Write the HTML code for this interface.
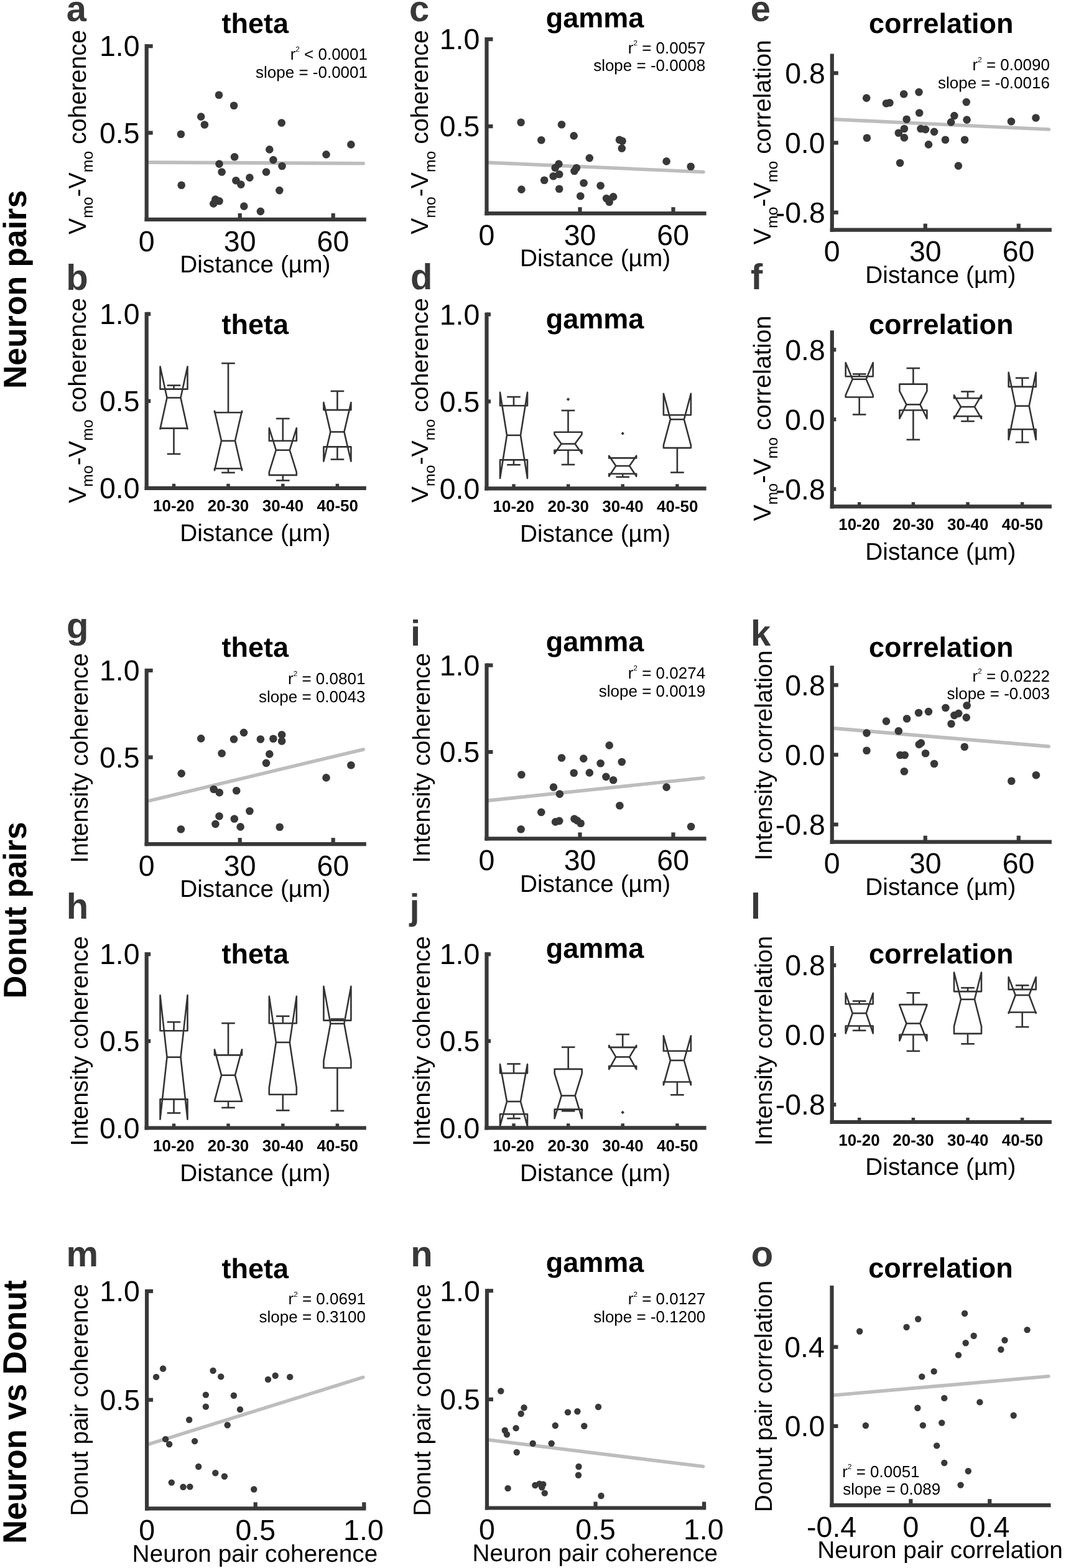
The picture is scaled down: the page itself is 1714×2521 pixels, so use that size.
<!DOCTYPE html>
<html><head><meta charset="utf-8"><title>Figure</title>
<style>
html,body{margin:0;padding:0;background:#fff;}
svg{display:block;}
text{font-family:'Liberation Sans', Arial, Helvetica, sans-serif;font-kerning:none;text-rendering:geometricPrecision;white-space:pre;}
</style></head>
<body>
<svg xmlns="http://www.w3.org/2000/svg" width="1714" height="2521" viewBox="0 0 1714 2521">
<rect width="1714" height="2521" fill="#fff"/>
<line x1="238.2" y1="261.01" x2="584.2" y2="262.79" stroke="#bdbdbd" stroke-width="5.6" stroke-linecap="round"/>
<circle cx="352" cy="152.8" r="6.3" fill="#383838"/>
<circle cx="376.1" cy="169.7" r="6.3" fill="#383838"/>
<circle cx="323.2" cy="187.6" r="6.3" fill="#383838"/>
<circle cx="328.9" cy="200.5" r="6.3" fill="#383838"/>
<circle cx="290.9" cy="215.7" r="6.3" fill="#383838"/>
<circle cx="452.7" cy="197.5" r="6.3" fill="#383838"/>
<circle cx="564.4" cy="232.4" r="6.3" fill="#383838"/>
<circle cx="433.3" cy="240.4" r="6.3" fill="#383838"/>
<circle cx="524.5" cy="248.4" r="6.3" fill="#383838"/>
<circle cx="377.1" cy="252.2" r="6.3" fill="#383838"/>
<circle cx="439.4" cy="257.1" r="6.3" fill="#383838"/>
<circle cx="352.5" cy="263.6" r="6.3" fill="#383838"/>
<circle cx="453.5" cy="267" r="6.3" fill="#383838"/>
<circle cx="356.6" cy="276.5" r="6.3" fill="#383838"/>
<circle cx="428" cy="276.5" r="6.3" fill="#383838"/>
<circle cx="401.4" cy="285.6" r="6.3" fill="#383838"/>
<circle cx="379.4" cy="290.2" r="6.3" fill="#383838"/>
<circle cx="387.4" cy="296.6" r="6.3" fill="#383838"/>
<circle cx="291.7" cy="297.8" r="6.3" fill="#383838"/>
<circle cx="449.3" cy="306.1" r="6.3" fill="#383838"/>
<circle cx="346.4" cy="320.5" r="6.3" fill="#383838"/>
<circle cx="352.5" cy="323.2" r="6.3" fill="#383838"/>
<circle cx="343.3" cy="327.4" r="6.3" fill="#383838"/>
<circle cx="392.3" cy="331.6" r="6.3" fill="#383838"/>
<circle cx="418.9" cy="339.9" r="6.3" fill="#383838"/>
<line x1="235.7" y1="352.9" x2="235.7" y2="74.2" stroke="#383838" stroke-width="6.2" stroke-linecap="square"/>
<line x1="235.7" y1="352.9" x2="585.7" y2="352.9" stroke="#383838" stroke-width="6.2" stroke-linecap="square"/>
<line x1="235.7" y1="213.55" x2="245.7" y2="213.55" stroke="#383838" stroke-width="6.2" stroke-linecap="butt"/>
<g transform="translate(160.01,229.78)" fill="#000"><text xml:space="preserve" x="0" y="0" font-size="46.5">0.5</text></g>
<line x1="235.7" y1="74.2" x2="245.7" y2="74.2" stroke="#383838" stroke-width="6.2" stroke-linecap="butt"/>
<g transform="translate(159.88,90.43)" fill="#000"><text xml:space="preserve" x="0" y="0" font-size="46.5">1.0</text></g>
<g transform="translate(222.77,403.6)" fill="#000"><text xml:space="preserve" x="0" y="0" font-size="46.5">0</text></g>
<line x1="385.7" y1="352.9" x2="385.7" y2="342.9" stroke="#383838" stroke-width="6.2" stroke-linecap="butt"/>
<g transform="translate(359.86,403.6)" fill="#000"><text xml:space="preserve" x="0" y="0" font-size="46.5">30</text></g>
<line x1="535.7" y1="352.9" x2="535.7" y2="342.9" stroke="#383838" stroke-width="6.2" stroke-linecap="butt"/>
<g transform="translate(509.57,403.6)" fill="#000"><text xml:space="preserve" x="0" y="0" font-size="46.5">60</text></g>
<g transform="translate(289.18,438.2)" fill="#000"><text xml:space="preserve" x="0" y="0" font-size="38.8">Distance (µm)</text></g>
<g transform="translate(356.53,53)" fill="#000"><text xml:space="preserve" x="0" y="0" font-size="45" font-weight="bold">theta</text></g>
<g transform="translate(137.8,377.07) rotate(-90) scale(0.9933,1)" fill="#000"><text xml:space="preserve" x="0" y="0" font-size="39.61">V</text><text xml:space="preserve" x="26.42" y="11.49" font-size="24.88">mo</text><text xml:space="preserve" x="60.98" y="0" font-size="39.61">-</text><text xml:space="preserve" x="74.17" y="0" font-size="39.61">V</text><text xml:space="preserve" x="100.59" y="11.49" font-size="24.88">mo</text><text xml:space="preserve" x="135.15" y="0" font-size="39.61"> coherence</text></g>
<g transform="translate(106.7,34.33)" fill="#383838"><text xml:space="preserve" x="0" y="0" font-size="58" font-weight="bold">a</text></g>
<g transform="translate(466.68,95.9)" fill="#000"><text xml:space="preserve" x="0" y="0" font-size="26">r</text><text xml:space="preserve" x="8.66" y="-12.48" font-size="11.7">2</text><text xml:space="preserve" x="15.17" y="0" font-size="26"> &lt; 0.0001</text></g>
<g transform="translate(411.03,125.2)" fill="#000"><text xml:space="preserve" x="0" y="0" font-size="26">slope = -0.0001</text></g>
<line x1="785" y1="261.41" x2="1131" y2="276.43" stroke="#bdbdbd" stroke-width="5.6" stroke-linecap="round"/>
<circle cx="837.6" cy="196.7" r="6.3" fill="#383838"/>
<circle cx="903" cy="200.2" r="6.3" fill="#383838"/>
<circle cx="922.7" cy="218.4" r="6.3" fill="#383838"/>
<circle cx="870.3" cy="225.2" r="6.3" fill="#383838"/>
<circle cx="996" cy="224.8" r="6.3" fill="#383838"/>
<circle cx="1000.6" cy="226.7" r="6.3" fill="#383838"/>
<circle cx="999.8" cy="238.5" r="6.3" fill="#383838"/>
<circle cx="947.8" cy="254.1" r="6.3" fill="#383838"/>
<circle cx="1071.6" cy="259.4" r="6.3" fill="#383838"/>
<circle cx="1110.7" cy="267.8" r="6.3" fill="#383838"/>
<circle cx="898.4" cy="263.6" r="6.3" fill="#383838"/>
<circle cx="892.7" cy="269.7" r="6.3" fill="#383838"/>
<circle cx="926.9" cy="270" r="6.3" fill="#383838"/>
<circle cx="923.5" cy="275" r="6.3" fill="#383838"/>
<circle cx="899.2" cy="280.3" r="6.3" fill="#383838"/>
<circle cx="889.7" cy="283.3" r="6.3" fill="#383838"/>
<circle cx="875.2" cy="289.8" r="6.3" fill="#383838"/>
<circle cx="938.6" cy="294.3" r="6.3" fill="#383838"/>
<circle cx="965.6" cy="298.5" r="6.3" fill="#383838"/>
<circle cx="838.4" cy="304.6" r="6.3" fill="#383838"/>
<circle cx="899.2" cy="303.8" r="6.3" fill="#383838"/>
<circle cx="933.3" cy="315.2" r="6.3" fill="#383838"/>
<circle cx="975.1" cy="319" r="6.3" fill="#383838"/>
<circle cx="986.1" cy="316.4" r="6.3" fill="#383838"/>
<circle cx="979.7" cy="324.7" r="6.3" fill="#383838"/>
<line x1="782.5" y1="343.1" x2="782.5" y2="63.1" stroke="#383838" stroke-width="6.2" stroke-linecap="square"/>
<line x1="782.5" y1="343.1" x2="1132.5" y2="343.1" stroke="#383838" stroke-width="6.2" stroke-linecap="square"/>
<line x1="782.5" y1="203.1" x2="792.5" y2="203.1" stroke="#383838" stroke-width="6.2" stroke-linecap="butt"/>
<g transform="translate(706.81,219.33)" fill="#000"><text xml:space="preserve" x="0" y="0" font-size="46.5">0.5</text></g>
<line x1="782.5" y1="63.1" x2="792.5" y2="63.1" stroke="#383838" stroke-width="6.2" stroke-linecap="butt"/>
<g transform="translate(706.68,79.33)" fill="#000"><text xml:space="preserve" x="0" y="0" font-size="46.5">1.0</text></g>
<g transform="translate(769.57,393.8)" fill="#000"><text xml:space="preserve" x="0" y="0" font-size="46.5">0</text></g>
<line x1="932.5" y1="343.1" x2="932.5" y2="333.1" stroke="#383838" stroke-width="6.2" stroke-linecap="butt"/>
<g transform="translate(906.66,393.8)" fill="#000"><text xml:space="preserve" x="0" y="0" font-size="46.5">30</text></g>
<line x1="1082.5" y1="343.1" x2="1082.5" y2="333.1" stroke="#383838" stroke-width="6.2" stroke-linecap="butt"/>
<g transform="translate(1056.37,393.8)" fill="#000"><text xml:space="preserve" x="0" y="0" font-size="46.5">60</text></g>
<g transform="translate(835.98,428.4)" fill="#000"><text xml:space="preserve" x="0" y="0" font-size="38.8">Distance (µm)</text></g>
<g transform="translate(877.65,44.3)" fill="#000"><text xml:space="preserve" x="0" y="0" font-size="45" font-weight="bold">gamma</text></g>
<g transform="translate(688.4,376.77) rotate(-90) scale(1.0065,1)" fill="#000"><text xml:space="preserve" x="0" y="0" font-size="39.06">V</text><text xml:space="preserve" x="26.05" y="11.33" font-size="24.53">mo</text><text xml:space="preserve" x="60.13" y="0" font-size="39.06">-</text><text xml:space="preserve" x="73.14" y="0" font-size="39.06">V</text><text xml:space="preserve" x="99.19" y="11.33" font-size="24.53">mo</text><text xml:space="preserve" x="133.27" y="0" font-size="39.06"> coherence</text></g>
<g transform="translate(657.93,34.03)" fill="#383838"><text xml:space="preserve" x="0" y="0" font-size="58" font-weight="bold">c</text></g>
<g transform="translate(1009.78,85.8)" fill="#000"><text xml:space="preserve" x="0" y="0" font-size="26">r</text><text xml:space="preserve" x="8.66" y="-12.48" font-size="11.7">2</text><text xml:space="preserve" x="15.17" y="0" font-size="26"> = 0.0057</text></g>
<g transform="translate(954.13,113.7)" fill="#000"><text xml:space="preserve" x="0" y="0" font-size="26">slope = -0.0008</text></g>
<line x1="1340.3" y1="191.92" x2="1686.3" y2="208.03" stroke="#bdbdbd" stroke-width="5.6" stroke-linecap="round"/>
<circle cx="1393.2" cy="157.6" r="6.3" fill="#383838"/>
<circle cx="1453.2" cy="151.2" r="6.3" fill="#383838"/>
<circle cx="1477.5" cy="148.1" r="6.3" fill="#383838"/>
<circle cx="1425" cy="166.3" r="6.3" fill="#383838"/>
<circle cx="1430.4" cy="165.2" r="6.3" fill="#383838"/>
<circle cx="1553.8" cy="164.1" r="6.3" fill="#383838"/>
<circle cx="1478.2" cy="181.5" r="6.3" fill="#383838"/>
<circle cx="1534.4" cy="186.1" r="6.3" fill="#383838"/>
<circle cx="1457.7" cy="191.8" r="6.3" fill="#383838"/>
<circle cx="1554.6" cy="192.6" r="6.3" fill="#383838"/>
<circle cx="1529.1" cy="196.4" r="6.3" fill="#383838"/>
<circle cx="1626" cy="195.2" r="6.3" fill="#383838"/>
<circle cx="1665.5" cy="189.5" r="6.3" fill="#383838"/>
<circle cx="1453.9" cy="207" r="6.3" fill="#383838"/>
<circle cx="1480.5" cy="207" r="6.3" fill="#383838"/>
<circle cx="1488.1" cy="208.1" r="6.3" fill="#383838"/>
<circle cx="1502.1" cy="211.9" r="6.3" fill="#383838"/>
<circle cx="1444.8" cy="213.8" r="6.3" fill="#383838"/>
<circle cx="1393.9" cy="221.8" r="6.3" fill="#383838"/>
<circle cx="1453.9" cy="221.4" r="6.3" fill="#383838"/>
<circle cx="1493" cy="232.4" r="6.3" fill="#383838"/>
<circle cx="1520" cy="224.8" r="6.3" fill="#383838"/>
<circle cx="1551.1" cy="224.8" r="6.3" fill="#383838"/>
<circle cx="1447.1" cy="262" r="6.3" fill="#383838"/>
<circle cx="1540.9" cy="266.6" r="6.3" fill="#383838"/>
<line x1="1337.8" y1="369.6" x2="1337.8" y2="89.5" stroke="#383838" stroke-width="6.2" stroke-linecap="square"/>
<line x1="1337.8" y1="369.6" x2="1687.8" y2="369.6" stroke="#383838" stroke-width="6.2" stroke-linecap="square"/>
<line x1="1337.8" y1="341.59" x2="1347.8" y2="341.59" stroke="#383838" stroke-width="6.2" stroke-linecap="butt"/>
<g transform="translate(1246.69,357.82)" fill="#000"><text xml:space="preserve" x="0" y="0" font-size="46.5">-0.8</text></g>
<line x1="1337.8" y1="229.55" x2="1347.8" y2="229.55" stroke="#383838" stroke-width="6.2" stroke-linecap="butt"/>
<g transform="translate(1261.98,245.78)" fill="#000"><text xml:space="preserve" x="0" y="0" font-size="46.5">0.0</text></g>
<line x1="1337.8" y1="117.51" x2="1347.8" y2="117.51" stroke="#383838" stroke-width="6.2" stroke-linecap="butt"/>
<g transform="translate(1262.18,133.74)" fill="#000"><text xml:space="preserve" x="0" y="0" font-size="46.5">0.8</text></g>
<g transform="translate(1324.87,420.3)" fill="#000"><text xml:space="preserve" x="0" y="0" font-size="46.5">0</text></g>
<line x1="1487.8" y1="369.6" x2="1487.8" y2="359.6" stroke="#383838" stroke-width="6.2" stroke-linecap="butt"/>
<g transform="translate(1461.96,420.3)" fill="#000"><text xml:space="preserve" x="0" y="0" font-size="46.5">30</text></g>
<line x1="1637.8" y1="369.6" x2="1637.8" y2="359.6" stroke="#383838" stroke-width="6.2" stroke-linecap="butt"/>
<g transform="translate(1611.67,420.3)" fill="#000"><text xml:space="preserve" x="0" y="0" font-size="46.5">60</text></g>
<g transform="translate(1391.28,454.9)" fill="#000"><text xml:space="preserve" x="0" y="0" font-size="38.8">Distance (µm)</text></g>
<g transform="translate(1397.04,52.7)" fill="#000"><text xml:space="preserve" x="0" y="0" font-size="45" font-weight="bold">correlation</text></g>
<g transform="translate(1238.5,393.17) rotate(-90) scale(1.0049,1)" fill="#000"><text xml:space="preserve" x="0" y="0" font-size="39.19">V</text><text xml:space="preserve" x="26.14" y="11.37" font-size="24.62">mo</text><text xml:space="preserve" x="60.35" y="0" font-size="39.19">-</text><text xml:space="preserve" x="73.4" y="0" font-size="39.19">V</text><text xml:space="preserve" x="99.54" y="11.37" font-size="24.62">mo</text><text xml:space="preserve" x="133.74" y="0" font-size="39.19"> correlation</text></g>
<g transform="translate(1206.83,34.03)" fill="#383838"><text xml:space="preserve" x="0" y="0" font-size="58" font-weight="bold">e</text></g>
<g transform="translate(1563.58,112.7)" fill="#000"><text xml:space="preserve" x="0" y="0" font-size="26">r</text><text xml:space="preserve" x="8.66" y="-12.48" font-size="11.7">2</text><text xml:space="preserve" x="15.17" y="0" font-size="26"> = 0.0090</text></g>
<g transform="translate(1507.93,141.8)" fill="#000"><text xml:space="preserve" x="0" y="0" font-size="26">slope = -0.0016</text></g>
<polygon points="257.5,688.6 257.5,689.6 268.5,639.5 257.5,589.4 257.5,625.6 301.5,625.6 301.5,589.4 290.5,639.5 301.5,689.6 301.5,688.6" fill="none" stroke="#333333" stroke-width="2.6" stroke-linejoin="round"/>
<line x1="268.5" y1="639.5" x2="290.5" y2="639.5" stroke="#333333" stroke-width="2.6" stroke-linecap="butt"/>
<line x1="279.5" y1="625.6" x2="279.5" y2="619.6" stroke="#333333" stroke-width="2.6" stroke-linecap="butt"/>
<line x1="268.7" y1="619.6" x2="290.3" y2="619.6" stroke="#333333" stroke-width="2.6" stroke-linecap="butt"/>
<line x1="279.5" y1="688.6" x2="279.5" y2="729.9" stroke="#333333" stroke-width="2.6" stroke-linecap="butt"/>
<line x1="268.7" y1="729.9" x2="290.3" y2="729.9" stroke="#333333" stroke-width="2.6" stroke-linecap="butt"/>
<polygon points="345,753.2 345,756.3 356,708.8 345,660.7 345,663.3 389,663.3 389,660.7 378,708.8 389,756.3 389,753.2" fill="none" stroke="#333333" stroke-width="2.6" stroke-linejoin="round"/>
<line x1="356" y1="708.8" x2="378" y2="708.8" stroke="#333333" stroke-width="2.6" stroke-linecap="butt"/>
<line x1="367" y1="663.3" x2="367" y2="584.1" stroke="#333333" stroke-width="2.6" stroke-linecap="butt"/>
<line x1="356.2" y1="584.1" x2="377.8" y2="584.1" stroke="#333333" stroke-width="2.6" stroke-linecap="butt"/>
<line x1="367" y1="753.2" x2="367" y2="759.9" stroke="#333333" stroke-width="2.6" stroke-linecap="butt"/>
<line x1="356.2" y1="759.9" x2="377.8" y2="759.9" stroke="#333333" stroke-width="2.6" stroke-linecap="butt"/>
<polygon points="432.8,763.9 432.8,759.2 443.8,723.7 432.8,688.2 432.8,708.7 476.8,708.7 476.8,688.2 465.8,723.7 476.8,759.2 476.8,763.9" fill="none" stroke="#333333" stroke-width="2.6" stroke-linejoin="round"/>
<line x1="443.8" y1="723.7" x2="465.8" y2="723.7" stroke="#333333" stroke-width="2.6" stroke-linecap="butt"/>
<line x1="454.8" y1="708.7" x2="454.8" y2="673" stroke="#333333" stroke-width="2.6" stroke-linecap="butt"/>
<line x1="444" y1="673" x2="465.6" y2="673" stroke="#333333" stroke-width="2.6" stroke-linecap="butt"/>
<line x1="454.8" y1="763.9" x2="454.8" y2="772.5" stroke="#333333" stroke-width="2.6" stroke-linecap="butt"/>
<line x1="444" y1="772.5" x2="465.6" y2="772.5" stroke="#333333" stroke-width="2.6" stroke-linecap="butt"/>
<polygon points="520.4,718.4 520.4,741.7 531.4,694.4 520.4,647.1 520.4,659.1 564.4,659.1 564.4,647.1 553.4,694.4 564.4,741.7 564.4,718.4" fill="none" stroke="#333333" stroke-width="2.6" stroke-linejoin="round"/>
<line x1="531.4" y1="694.4" x2="553.4" y2="694.4" stroke="#333333" stroke-width="2.6" stroke-linecap="butt"/>
<line x1="542.4" y1="659.1" x2="542.4" y2="628.9" stroke="#333333" stroke-width="2.6" stroke-linecap="butt"/>
<line x1="531.6" y1="628.9" x2="553.2" y2="628.9" stroke="#333333" stroke-width="2.6" stroke-linecap="butt"/>
<line x1="542.4" y1="718.4" x2="542.4" y2="738.6" stroke="#333333" stroke-width="2.6" stroke-linecap="butt"/>
<line x1="531.6" y1="738.6" x2="553.2" y2="738.6" stroke="#333333" stroke-width="2.6" stroke-linecap="butt"/>
<line x1="235.7" y1="784.8" x2="235.7" y2="504.8" stroke="#383838" stroke-width="6.2" stroke-linecap="square"/>
<line x1="235.7" y1="784.8" x2="585.7" y2="784.8" stroke="#383838" stroke-width="6.2" stroke-linecap="square"/>
<g transform="translate(159.88,801.03)" fill="#000"><text xml:space="preserve" x="0" y="0" font-size="46.5">0.0</text></g>
<line x1="235.7" y1="644.8" x2="242.2" y2="644.8" stroke="#383838" stroke-width="6.2" stroke-linecap="butt"/>
<g transform="translate(160.01,661.03)" fill="#000"><text xml:space="preserve" x="0" y="0" font-size="46.5">0.5</text></g>
<line x1="235.7" y1="504.8" x2="242.2" y2="504.8" stroke="#383838" stroke-width="6.2" stroke-linecap="butt"/>
<g transform="translate(159.88,521.03)" fill="#000"><text xml:space="preserve" x="0" y="0" font-size="46.5">1.0</text></g>
<g transform="translate(245.97,822.3)" fill="#000"><text xml:space="preserve" x="0" y="0" font-size="26" font-weight="bold">10-20</text></g>
<line x1="279.5" y1="784.8" x2="279.5" y2="777.8" stroke="#383838" stroke-width="5.5" stroke-linecap="butt"/>
<g transform="translate(333.83,822.3)" fill="#000"><text xml:space="preserve" x="0" y="0" font-size="26" font-weight="bold">20-30</text></g>
<line x1="367" y1="784.8" x2="367" y2="777.8" stroke="#383838" stroke-width="5.5" stroke-linecap="butt"/>
<g transform="translate(421.79,822.3)" fill="#000"><text xml:space="preserve" x="0" y="0" font-size="26" font-weight="bold">30-40</text></g>
<line x1="454.8" y1="784.8" x2="454.8" y2="777.8" stroke="#383838" stroke-width="5.5" stroke-linecap="butt"/>
<g transform="translate(509.49,822.3)" fill="#000"><text xml:space="preserve" x="0" y="0" font-size="26" font-weight="bold">40-50</text></g>
<line x1="542.4" y1="784.8" x2="542.4" y2="777.8" stroke="#383838" stroke-width="5.5" stroke-linecap="butt"/>
<g transform="translate(289.18,870.1)" fill="#000"><text xml:space="preserve" x="0" y="0" font-size="38.8">Distance (µm)</text></g>
<g transform="translate(356.53,537.3)" fill="#000"><text xml:space="preserve" x="0" y="0" font-size="45" font-weight="bold">theta</text></g>
<g transform="translate(137.8,809.07) rotate(-90) scale(0.9964,1)" fill="#000"><text xml:space="preserve" x="0" y="0" font-size="39.61">V</text><text xml:space="preserve" x="26.42" y="11.49" font-size="24.88">mo</text><text xml:space="preserve" x="60.98" y="0" font-size="39.61">-</text><text xml:space="preserve" x="74.17" y="0" font-size="39.61">V</text><text xml:space="preserve" x="100.59" y="11.49" font-size="24.88">mo</text><text xml:space="preserve" x="135.15" y="0" font-size="39.61"> coherence</text></g>
<g transform="translate(106.18,466.03)" fill="#383838"><text xml:space="preserve" x="0" y="0" font-size="58" font-weight="bold">b</text></g>
<polygon points="804,739.4 804,769 815,699.8 804,630.8 804,652.3 848,652.3 848,630.8 837,699.8 848,769 848,739.4" fill="none" stroke="#333333" stroke-width="2.6" stroke-linejoin="round"/>
<line x1="815" y1="699.8" x2="837" y2="699.8" stroke="#333333" stroke-width="2.6" stroke-linecap="butt"/>
<line x1="826" y1="652.3" x2="826" y2="638.1" stroke="#333333" stroke-width="2.6" stroke-linecap="butt"/>
<line x1="815.2" y1="638.1" x2="836.8" y2="638.1" stroke="#333333" stroke-width="2.6" stroke-linecap="butt"/>
<line x1="826" y1="739.4" x2="826" y2="747.3" stroke="#333333" stroke-width="2.6" stroke-linecap="butt"/>
<line x1="815.2" y1="747.3" x2="836.8" y2="747.3" stroke="#333333" stroke-width="2.6" stroke-linecap="butt"/>
<polygon points="891.5,723.8 891.5,729.2 902.5,713.6 891.5,698.5 891.5,694.8 935.5,694.8 935.5,698.5 924.5,713.6 935.5,729.2 935.5,723.8" fill="none" stroke="#333333" stroke-width="2.6" stroke-linejoin="round"/>
<line x1="902.5" y1="713.6" x2="924.5" y2="713.6" stroke="#333333" stroke-width="2.6" stroke-linecap="butt"/>
<line x1="913.5" y1="694.8" x2="913.5" y2="660" stroke="#333333" stroke-width="2.6" stroke-linecap="butt"/>
<line x1="902.7" y1="660" x2="924.3" y2="660" stroke="#333333" stroke-width="2.6" stroke-linecap="butt"/>
<line x1="913.5" y1="723.8" x2="913.5" y2="747" stroke="#333333" stroke-width="2.6" stroke-linecap="butt"/>
<line x1="902.7" y1="747" x2="924.3" y2="747" stroke="#333333" stroke-width="2.6" stroke-linecap="butt"/>
<polygon points="913.5,639.3 916.2,642 913.5,644.7 910.8,642" fill="#333333"/>
<polygon points="979.2,761.8 979.2,765.8 990.2,749.1 979.2,732.8 979.2,736.4 1023.2,736.4 1023.2,732.8 1012.2,749.1 1023.2,765.8 1023.2,761.8" fill="none" stroke="#333333" stroke-width="2.6" stroke-linejoin="round"/>
<line x1="990.2" y1="749.1" x2="1012.2" y2="749.1" stroke="#333333" stroke-width="2.6" stroke-linecap="butt"/>
<line x1="1001.2" y1="761.8" x2="1001.2" y2="766.9" stroke="#333333" stroke-width="2.6" stroke-linecap="butt"/>
<line x1="990.4" y1="766.9" x2="1012" y2="766.9" stroke="#333333" stroke-width="2.6" stroke-linecap="butt"/>
<polygon points="1001.2,694.2 1003.9,696.9 1001.2,699.6 998.5,696.9" fill="#333333"/>
<polygon points="1066.9,720.1 1066.9,715.7 1077.9,674.3 1066.9,632.9 1066.9,667.3 1110.9,667.3 1110.9,632.9 1099.9,674.3 1110.9,715.7 1110.9,720.1" fill="none" stroke="#333333" stroke-width="2.6" stroke-linejoin="round"/>
<line x1="1077.9" y1="674.3" x2="1099.9" y2="674.3" stroke="#333333" stroke-width="2.6" stroke-linecap="butt"/>
<line x1="1088.9" y1="720.1" x2="1088.9" y2="759.6" stroke="#333333" stroke-width="2.6" stroke-linecap="butt"/>
<line x1="1078.1" y1="759.6" x2="1099.7" y2="759.6" stroke="#333333" stroke-width="2.6" stroke-linecap="butt"/>
<line x1="782.5" y1="785.4" x2="782.5" y2="505.5" stroke="#383838" stroke-width="6.2" stroke-linecap="square"/>
<line x1="782.5" y1="785.4" x2="1132.5" y2="785.4" stroke="#383838" stroke-width="6.2" stroke-linecap="square"/>
<g transform="translate(706.68,801.63)" fill="#000"><text xml:space="preserve" x="0" y="0" font-size="46.5">0.0</text></g>
<line x1="782.5" y1="645.45" x2="789" y2="645.45" stroke="#383838" stroke-width="6.2" stroke-linecap="butt"/>
<g transform="translate(706.81,661.68)" fill="#000"><text xml:space="preserve" x="0" y="0" font-size="46.5">0.5</text></g>
<line x1="782.5" y1="505.5" x2="789" y2="505.5" stroke="#383838" stroke-width="6.2" stroke-linecap="butt"/>
<g transform="translate(706.68,521.73)" fill="#000"><text xml:space="preserve" x="0" y="0" font-size="46.5">1.0</text></g>
<g transform="translate(792.47,822.9)" fill="#000"><text xml:space="preserve" x="0" y="0" font-size="26" font-weight="bold">10-20</text></g>
<line x1="826" y1="785.4" x2="826" y2="778.4" stroke="#383838" stroke-width="5.5" stroke-linecap="butt"/>
<g transform="translate(880.53,822.9)" fill="#000"><text xml:space="preserve" x="0" y="0" font-size="26" font-weight="bold">20-30</text></g>
<line x1="913.7" y1="785.4" x2="913.7" y2="778.4" stroke="#383838" stroke-width="5.5" stroke-linecap="butt"/>
<g transform="translate(968.19,822.9)" fill="#000"><text xml:space="preserve" x="0" y="0" font-size="26" font-weight="bold">30-40</text></g>
<line x1="1001.2" y1="785.4" x2="1001.2" y2="778.4" stroke="#383838" stroke-width="5.5" stroke-linecap="butt"/>
<g transform="translate(1055.99,822.9)" fill="#000"><text xml:space="preserve" x="0" y="0" font-size="26" font-weight="bold">40-50</text></g>
<line x1="1088.9" y1="785.4" x2="1088.9" y2="778.4" stroke="#383838" stroke-width="5.5" stroke-linecap="butt"/>
<g transform="translate(835.98,870.7)" fill="#000"><text xml:space="preserve" x="0" y="0" font-size="38.8">Distance (µm)</text></g>
<g transform="translate(877.65,528)" fill="#000"><text xml:space="preserve" x="0" y="0" font-size="45" font-weight="bold">gamma</text></g>
<g transform="translate(688.2,808.17) rotate(-90) scale(1.0449,1)" fill="#000"><text xml:space="preserve" x="0" y="0" font-size="37.68">V</text><text xml:space="preserve" x="25.13" y="10.93" font-size="23.67">mo</text><text xml:space="preserve" x="58.01" y="0" font-size="37.68">-</text><text xml:space="preserve" x="70.55" y="0" font-size="37.68">V</text><text xml:space="preserve" x="95.68" y="10.93" font-size="23.67">mo</text><text xml:space="preserve" x="128.56" y="0" font-size="37.68"> coherence</text></g>
<g transform="translate(659.92,465.33)" fill="#383838"><text xml:space="preserve" x="0" y="0" font-size="58" font-weight="bold">d</text></g>
<polygon points="1359.7,638.5 1359.7,635.3 1370.7,609.7 1359.7,583.1 1359.7,605.2 1403.7,605.2 1403.7,583.1 1392.7,609.7 1403.7,635.3 1403.7,638.5" fill="none" stroke="#333333" stroke-width="2.6" stroke-linejoin="round"/>
<line x1="1370.7" y1="609.7" x2="1392.7" y2="609.7" stroke="#333333" stroke-width="2.6" stroke-linecap="butt"/>
<line x1="1381.7" y1="605.2" x2="1381.7" y2="601.4" stroke="#333333" stroke-width="2.6" stroke-linecap="butt"/>
<line x1="1370.9" y1="601.4" x2="1392.5" y2="601.4" stroke="#333333" stroke-width="2.6" stroke-linecap="butt"/>
<line x1="1381.7" y1="638.5" x2="1381.7" y2="666.5" stroke="#333333" stroke-width="2.6" stroke-linecap="butt"/>
<line x1="1370.9" y1="666.5" x2="1392.5" y2="666.5" stroke="#333333" stroke-width="2.6" stroke-linecap="butt"/>
<polygon points="1446.4,659.5 1446.4,673 1457.4,650.4 1446.4,628.9 1446.4,617.6 1490.4,617.6 1490.4,628.9 1479.4,650.4 1490.4,673 1490.4,659.5" fill="none" stroke="#333333" stroke-width="2.6" stroke-linejoin="round"/>
<line x1="1457.4" y1="650.4" x2="1479.4" y2="650.4" stroke="#333333" stroke-width="2.6" stroke-linecap="butt"/>
<line x1="1468.4" y1="617.6" x2="1468.4" y2="592" stroke="#333333" stroke-width="2.6" stroke-linecap="butt"/>
<line x1="1457.6" y1="592" x2="1479.2" y2="592" stroke="#333333" stroke-width="2.6" stroke-linecap="butt"/>
<line x1="1468.4" y1="659.5" x2="1468.4" y2="706.9" stroke="#333333" stroke-width="2.6" stroke-linecap="butt"/>
<line x1="1457.6" y1="706.9" x2="1479.2" y2="706.9" stroke="#333333" stroke-width="2.6" stroke-linecap="butt"/>
<polygon points="1534,669.2 1534,673 1545,654.1 1534,635.3 1534,640.2 1578,640.2 1578,635.3 1567,654.1 1578,673 1578,669.2" fill="none" stroke="#333333" stroke-width="2.6" stroke-linejoin="round"/>
<line x1="1545" y1="654.1" x2="1567" y2="654.1" stroke="#333333" stroke-width="2.6" stroke-linecap="butt"/>
<line x1="1556" y1="640.2" x2="1556" y2="629.6" stroke="#333333" stroke-width="2.6" stroke-linecap="butt"/>
<line x1="1545.2" y1="629.6" x2="1566.8" y2="629.6" stroke="#333333" stroke-width="2.6" stroke-linecap="butt"/>
<line x1="1556" y1="669.2" x2="1556" y2="677.3" stroke="#333333" stroke-width="2.6" stroke-linecap="butt"/>
<line x1="1545.2" y1="677.3" x2="1566.8" y2="677.3" stroke="#333333" stroke-width="2.6" stroke-linecap="butt"/>
<polygon points="1621.7,690.2 1621.7,706.9 1632.7,652.7 1621.7,598.7 1621.7,621.9 1665.7,621.9 1665.7,598.7 1654.7,652.7 1665.7,706.9 1665.7,690.2" fill="none" stroke="#333333" stroke-width="2.6" stroke-linejoin="round"/>
<line x1="1632.7" y1="652.7" x2="1654.7" y2="652.7" stroke="#333333" stroke-width="2.6" stroke-linecap="butt"/>
<line x1="1643.7" y1="621.9" x2="1643.7" y2="607.7" stroke="#333333" stroke-width="2.6" stroke-linecap="butt"/>
<line x1="1632.9" y1="607.7" x2="1654.5" y2="607.7" stroke="#333333" stroke-width="2.6" stroke-linecap="butt"/>
<line x1="1643.7" y1="690.2" x2="1643.7" y2="711.2" stroke="#333333" stroke-width="2.6" stroke-linecap="butt"/>
<line x1="1632.9" y1="711.2" x2="1654.5" y2="711.2" stroke="#333333" stroke-width="2.6" stroke-linecap="butt"/>
<line x1="1337.8" y1="814.3" x2="1337.8" y2="534.3" stroke="#383838" stroke-width="6.2" stroke-linecap="square"/>
<line x1="1337.8" y1="814.3" x2="1687.8" y2="814.3" stroke="#383838" stroke-width="6.2" stroke-linecap="square"/>
<line x1="1337.8" y1="786.3" x2="1344.3" y2="786.3" stroke="#383838" stroke-width="6.2" stroke-linecap="butt"/>
<g transform="translate(1246.69,802.53)" fill="#000"><text xml:space="preserve" x="0" y="0" font-size="46.5">-0.8</text></g>
<line x1="1337.8" y1="674.3" x2="1344.3" y2="674.3" stroke="#383838" stroke-width="6.2" stroke-linecap="butt"/>
<g transform="translate(1261.98,690.53)" fill="#000"><text xml:space="preserve" x="0" y="0" font-size="46.5">0.0</text></g>
<line x1="1337.8" y1="562.3" x2="1344.3" y2="562.3" stroke="#383838" stroke-width="6.2" stroke-linecap="butt"/>
<g transform="translate(1262.18,578.53)" fill="#000"><text xml:space="preserve" x="0" y="0" font-size="46.5">0.8</text></g>
<g transform="translate(1348.17,851.8)" fill="#000"><text xml:space="preserve" x="0" y="0" font-size="26" font-weight="bold">10-20</text></g>
<line x1="1381.7" y1="814.3" x2="1381.7" y2="807.3" stroke="#383838" stroke-width="5.5" stroke-linecap="butt"/>
<g transform="translate(1435.23,851.8)" fill="#000"><text xml:space="preserve" x="0" y="0" font-size="26" font-weight="bold">20-30</text></g>
<line x1="1468.4" y1="814.3" x2="1468.4" y2="807.3" stroke="#383838" stroke-width="5.5" stroke-linecap="butt"/>
<g transform="translate(1522.99,851.8)" fill="#000"><text xml:space="preserve" x="0" y="0" font-size="26" font-weight="bold">30-40</text></g>
<line x1="1556" y1="814.3" x2="1556" y2="807.3" stroke="#383838" stroke-width="5.5" stroke-linecap="butt"/>
<g transform="translate(1610.79,851.8)" fill="#000"><text xml:space="preserve" x="0" y="0" font-size="26" font-weight="bold">40-50</text></g>
<line x1="1643.7" y1="814.3" x2="1643.7" y2="807.3" stroke="#383838" stroke-width="5.5" stroke-linecap="butt"/>
<g transform="translate(1391.28,899.6)" fill="#000"><text xml:space="preserve" x="0" y="0" font-size="38.8">Distance (µm)</text></g>
<g transform="translate(1397.04,537.4)" fill="#000"><text xml:space="preserve" x="0" y="0" font-size="45" font-weight="bold">correlation</text></g>
<g transform="translate(1238.6,837.77) rotate(-90) scale(1.0044,1)" fill="#000"><text xml:space="preserve" x="0" y="0" font-size="39.33">V</text><text xml:space="preserve" x="26.23" y="11.41" font-size="24.71">mo</text><text xml:space="preserve" x="60.56" y="0" font-size="39.33">-</text><text xml:space="preserve" x="73.66" y="0" font-size="39.33">V</text><text xml:space="preserve" x="99.89" y="11.41" font-size="24.71">mo</text><text xml:space="preserve" x="134.21" y="0" font-size="39.33"> correlation</text></g>
<g transform="translate(1207.01,465.4)" fill="#383838"><text xml:space="preserve" x="0" y="0" font-size="58" font-weight="bold">f</text></g>
<line x1="238.2" y1="1287.9" x2="584.2" y2="1204.91" stroke="#bdbdbd" stroke-width="5.6" stroke-linecap="round"/>
<circle cx="323.2" cy="1187.4" r="6.3" fill="#383838"/>
<circle cx="376" cy="1188.5" r="6.3" fill="#383838"/>
<circle cx="392" cy="1177.9" r="6.3" fill="#383838"/>
<circle cx="418.9" cy="1188.5" r="6.3" fill="#383838"/>
<circle cx="439.4" cy="1187.7" r="6.3" fill="#383838"/>
<circle cx="453.1" cy="1181.3" r="6.3" fill="#383838"/>
<circle cx="453.1" cy="1191.5" r="6.3" fill="#383838"/>
<circle cx="356.6" cy="1211.3" r="6.3" fill="#383838"/>
<circle cx="433.3" cy="1212.4" r="6.3" fill="#383838"/>
<circle cx="428" cy="1226.9" r="6.3" fill="#383838"/>
<circle cx="291.7" cy="1243.6" r="6.3" fill="#383838"/>
<circle cx="564.4" cy="1230.3" r="6.3" fill="#383838"/>
<circle cx="524.5" cy="1250.4" r="6.3" fill="#383838"/>
<circle cx="343.7" cy="1269" r="6.3" fill="#383838"/>
<circle cx="352.8" cy="1274.3" r="6.3" fill="#383838"/>
<circle cx="380.2" cy="1271.3" r="6.3" fill="#383838"/>
<circle cx="401.4" cy="1304" r="6.3" fill="#383838"/>
<circle cx="352.5" cy="1312.3" r="6.3" fill="#383838"/>
<circle cx="376.8" cy="1316.5" r="6.3" fill="#383838"/>
<circle cx="346.4" cy="1324.9" r="6.3" fill="#383838"/>
<circle cx="386.6" cy="1329.4" r="6.3" fill="#383838"/>
<circle cx="449.7" cy="1329.8" r="6.3" fill="#383838"/>
<circle cx="290.9" cy="1333.2" r="6.3" fill="#383838"/>
<line x1="235.7" y1="1357.1" x2="235.7" y2="1078" stroke="#383838" stroke-width="6.2" stroke-linecap="square"/>
<line x1="235.7" y1="1357.1" x2="585.7" y2="1357.1" stroke="#383838" stroke-width="6.2" stroke-linecap="square"/>
<line x1="235.7" y1="1217.55" x2="245.7" y2="1217.55" stroke="#383838" stroke-width="6.2" stroke-linecap="butt"/>
<g transform="translate(160.01,1233.78)" fill="#000"><text xml:space="preserve" x="0" y="0" font-size="46.5">0.5</text></g>
<line x1="235.7" y1="1078" x2="245.7" y2="1078" stroke="#383838" stroke-width="6.2" stroke-linecap="butt"/>
<g transform="translate(159.88,1094.23)" fill="#000"><text xml:space="preserve" x="0" y="0" font-size="46.5">1.0</text></g>
<g transform="translate(222.77,1407.8)" fill="#000"><text xml:space="preserve" x="0" y="0" font-size="46.5">0</text></g>
<line x1="385.7" y1="1357.1" x2="385.7" y2="1347.1" stroke="#383838" stroke-width="6.2" stroke-linecap="butt"/>
<g transform="translate(359.86,1407.8)" fill="#000"><text xml:space="preserve" x="0" y="0" font-size="46.5">30</text></g>
<line x1="535.7" y1="1357.1" x2="535.7" y2="1347.1" stroke="#383838" stroke-width="6.2" stroke-linecap="butt"/>
<g transform="translate(509.57,1407.8)" fill="#000"><text xml:space="preserve" x="0" y="0" font-size="46.5">60</text></g>
<g transform="translate(289.18,1442.4)" fill="#000"><text xml:space="preserve" x="0" y="0" font-size="38.8">Distance (µm)</text></g>
<g transform="translate(356.53,1056.3)" fill="#000"><text xml:space="preserve" x="0" y="0" font-size="45" font-weight="bold">theta</text></g>
<g transform="translate(140.6,1387.39) rotate(-90) scale(0.9931,1)" fill="#000"><text xml:space="preserve" x="0" y="0" font-size="39.19">Intensity coherence</text></g>
<g transform="translate(107.12,1026.41)" fill="#383838"><text xml:space="preserve" x="0" y="0" font-size="58" font-weight="bold">g</text></g>
<g transform="translate(463.08,1099.7)" fill="#000"><text xml:space="preserve" x="0" y="0" font-size="26">r</text><text xml:space="preserve" x="8.66" y="-12.48" font-size="11.7">2</text><text xml:space="preserve" x="15.17" y="0" font-size="26"> = 0.0801</text></g>
<g transform="translate(416.09,1128.5)" fill="#000"><text xml:space="preserve" x="0" y="0" font-size="26">slope = 0.0043</text></g>
<line x1="785" y1="1287.14" x2="1131" y2="1250.66" stroke="#bdbdbd" stroke-width="5.6" stroke-linecap="round"/>
<circle cx="979.7" cy="1198.4" r="6.3" fill="#383838"/>
<circle cx="903" cy="1218.5" r="6.3" fill="#383838"/>
<circle cx="938.3" cy="1219.6" r="6.3" fill="#383838"/>
<circle cx="965.6" cy="1227.2" r="6.3" fill="#383838"/>
<circle cx="999.8" cy="1225" r="6.3" fill="#383838"/>
<circle cx="838.4" cy="1245.5" r="6.3" fill="#383838"/>
<circle cx="922.7" cy="1242.8" r="6.3" fill="#383838"/>
<circle cx="947.8" cy="1242.4" r="6.3" fill="#383838"/>
<circle cx="974.4" cy="1248.9" r="6.3" fill="#383838"/>
<circle cx="986.1" cy="1254.2" r="6.3" fill="#383838"/>
<circle cx="890" cy="1265.6" r="6.3" fill="#383838"/>
<circle cx="899.9" cy="1276.6" r="6.3" fill="#383838"/>
<circle cx="1071.6" cy="1265.6" r="6.3" fill="#383838"/>
<circle cx="996.4" cy="1295.2" r="6.3" fill="#383838"/>
<circle cx="870.3" cy="1305.9" r="6.3" fill="#383838"/>
<circle cx="893.1" cy="1321.4" r="6.3" fill="#383838"/>
<circle cx="899.2" cy="1319.9" r="6.3" fill="#383838"/>
<circle cx="923.5" cy="1316.5" r="6.3" fill="#383838"/>
<circle cx="928" cy="1319.2" r="6.3" fill="#383838"/>
<circle cx="933.7" cy="1323.7" r="6.3" fill="#383838"/>
<circle cx="837.6" cy="1333.2" r="6.3" fill="#383838"/>
<circle cx="1111.1" cy="1329" r="6.3" fill="#383838"/>
<line x1="782.5" y1="1348.4" x2="782.5" y2="1069.6" stroke="#383838" stroke-width="6.2" stroke-linecap="square"/>
<line x1="782.5" y1="1348.4" x2="1132.5" y2="1348.4" stroke="#383838" stroke-width="6.2" stroke-linecap="square"/>
<line x1="782.5" y1="1209" x2="792.5" y2="1209" stroke="#383838" stroke-width="6.2" stroke-linecap="butt"/>
<g transform="translate(706.81,1225.23)" fill="#000"><text xml:space="preserve" x="0" y="0" font-size="46.5">0.5</text></g>
<line x1="782.5" y1="1069.6" x2="792.5" y2="1069.6" stroke="#383838" stroke-width="6.2" stroke-linecap="butt"/>
<g transform="translate(706.68,1085.83)" fill="#000"><text xml:space="preserve" x="0" y="0" font-size="46.5">1.0</text></g>
<g transform="translate(769.57,1399.1)" fill="#000"><text xml:space="preserve" x="0" y="0" font-size="46.5">0</text></g>
<line x1="932.5" y1="1348.4" x2="932.5" y2="1338.4" stroke="#383838" stroke-width="6.2" stroke-linecap="butt"/>
<g transform="translate(906.66,1399.1)" fill="#000"><text xml:space="preserve" x="0" y="0" font-size="46.5">30</text></g>
<line x1="1082.5" y1="1348.4" x2="1082.5" y2="1338.4" stroke="#383838" stroke-width="6.2" stroke-linecap="butt"/>
<g transform="translate(1056.37,1399.1)" fill="#000"><text xml:space="preserve" x="0" y="0" font-size="46.5">60</text></g>
<g transform="translate(835.98,1433.7)" fill="#000"><text xml:space="preserve" x="0" y="0" font-size="38.8">Distance (µm)</text></g>
<g transform="translate(877.65,1046.7)" fill="#000"><text xml:space="preserve" x="0" y="0" font-size="45" font-weight="bold">gamma</text></g>
<g transform="translate(691.4,1387.39) rotate(-90) scale(0.9969,1)" fill="#000"><text xml:space="preserve" x="0" y="0" font-size="39.06">Intensity coherence</text></g>
<g transform="translate(659.95,1037.8)" fill="#383838"><text xml:space="preserve" x="0" y="0" font-size="58" font-weight="bold">i</text></g>
<g transform="translate(1009.78,1090.8)" fill="#000"><text xml:space="preserve" x="0" y="0" font-size="26">r</text><text xml:space="preserve" x="8.66" y="-12.48" font-size="11.7">2</text><text xml:space="preserve" x="15.17" y="0" font-size="26"> = 0.0274</text></g>
<g transform="translate(962.79,1119.9)" fill="#000"><text xml:space="preserve" x="0" y="0" font-size="26">slope = 0.0019</text></g>
<line x1="1340.3" y1="1170.86" x2="1686.3" y2="1200.13" stroke="#bdbdbd" stroke-width="5.6" stroke-linecap="round"/>
<circle cx="1554.6" cy="1134.2" r="6.3" fill="#383838"/>
<circle cx="1520.4" cy="1138" r="6.3" fill="#383838"/>
<circle cx="1493" cy="1144.1" r="6.3" fill="#383838"/>
<circle cx="1477.1" cy="1146" r="6.3" fill="#383838"/>
<circle cx="1534.4" cy="1150.1" r="6.3" fill="#383838"/>
<circle cx="1541.2" cy="1147.1" r="6.3" fill="#383838"/>
<circle cx="1553.8" cy="1153.6" r="6.3" fill="#383838"/>
<circle cx="1458.1" cy="1155.5" r="6.3" fill="#383838"/>
<circle cx="1425" cy="1159.6" r="6.3" fill="#383838"/>
<circle cx="1529.5" cy="1163.8" r="6.3" fill="#383838"/>
<circle cx="1444.8" cy="1175.2" r="6.3" fill="#383838"/>
<circle cx="1393.5" cy="1178.6" r="6.3" fill="#383838"/>
<circle cx="1480.9" cy="1194.6" r="6.3" fill="#383838"/>
<circle cx="1477.8" cy="1196.9" r="6.3" fill="#383838"/>
<circle cx="1550.8" cy="1200.7" r="6.3" fill="#383838"/>
<circle cx="1393.5" cy="1206.7" r="6.3" fill="#383838"/>
<circle cx="1447.4" cy="1214" r="6.3" fill="#383838"/>
<circle cx="1454.7" cy="1214" r="6.3" fill="#383838"/>
<circle cx="1488.1" cy="1211.3" r="6.3" fill="#383838"/>
<circle cx="1502.1" cy="1228" r="6.3" fill="#383838"/>
<circle cx="1453.9" cy="1240.2" r="6.3" fill="#383838"/>
<circle cx="1626.3" cy="1255.7" r="6.3" fill="#383838"/>
<circle cx="1665.9" cy="1246.2" r="6.3" fill="#383838"/>
<line x1="1337.8" y1="1353.6" x2="1337.8" y2="1073.4" stroke="#383838" stroke-width="6.2" stroke-linecap="square"/>
<line x1="1337.8" y1="1353.6" x2="1687.8" y2="1353.6" stroke="#383838" stroke-width="6.2" stroke-linecap="square"/>
<line x1="1337.8" y1="1325.58" x2="1347.8" y2="1325.58" stroke="#383838" stroke-width="6.2" stroke-linecap="butt"/>
<g transform="translate(1246.69,1341.81)" fill="#000"><text xml:space="preserve" x="0" y="0" font-size="46.5">-0.8</text></g>
<line x1="1337.8" y1="1213.5" x2="1347.8" y2="1213.5" stroke="#383838" stroke-width="6.2" stroke-linecap="butt"/>
<g transform="translate(1261.98,1229.73)" fill="#000"><text xml:space="preserve" x="0" y="0" font-size="46.5">0.0</text></g>
<line x1="1337.8" y1="1101.42" x2="1347.8" y2="1101.42" stroke="#383838" stroke-width="6.2" stroke-linecap="butt"/>
<g transform="translate(1262.18,1117.65)" fill="#000"><text xml:space="preserve" x="0" y="0" font-size="46.5">0.8</text></g>
<g transform="translate(1324.87,1404.3)" fill="#000"><text xml:space="preserve" x="0" y="0" font-size="46.5">0</text></g>
<line x1="1487.8" y1="1353.6" x2="1487.8" y2="1343.6" stroke="#383838" stroke-width="6.2" stroke-linecap="butt"/>
<g transform="translate(1461.96,1404.3)" fill="#000"><text xml:space="preserve" x="0" y="0" font-size="46.5">30</text></g>
<line x1="1637.8" y1="1353.6" x2="1637.8" y2="1343.6" stroke="#383838" stroke-width="6.2" stroke-linecap="butt"/>
<g transform="translate(1611.67,1404.3)" fill="#000"><text xml:space="preserve" x="0" y="0" font-size="46.5">60</text></g>
<g transform="translate(1391.28,1438.9)" fill="#000"><text xml:space="preserve" x="0" y="0" font-size="38.8">Distance (µm)</text></g>
<g transform="translate(1397.04,1056.4)" fill="#000"><text xml:space="preserve" x="0" y="0" font-size="45" font-weight="bold">correlation</text></g>
<g transform="translate(1240.8,1383.4) rotate(-90) scale(1.0050,1)" fill="#000"><text xml:space="preserve" x="0" y="0" font-size="38.78">Intensity correlation</text></g>
<g transform="translate(1206.95,1037.8)" fill="#383838"><text xml:space="preserve" x="0" y="0" font-size="58" font-weight="bold">k</text></g>
<g transform="translate(1563.58,1095.9)" fill="#000"><text xml:space="preserve" x="0" y="0" font-size="26">r</text><text xml:space="preserve" x="8.66" y="-12.48" font-size="11.7">2</text><text xml:space="preserve" x="15.17" y="0" font-size="26"> = 0.0222</text></g>
<g transform="translate(1522.39,1124.4)" fill="#000"><text xml:space="preserve" x="0" y="0" font-size="26">slope = -0.003</text></g>
<polygon points="257.5,1767.4 257.5,1799.7 268.5,1699.7 257.5,1600.1 257.5,1657.2 301.5,1657.2 301.5,1600.1 290.5,1699.7 301.5,1799.7 301.5,1767.4" fill="none" stroke="#333333" stroke-width="2.6" stroke-linejoin="round"/>
<line x1="268.5" y1="1699.7" x2="290.5" y2="1699.7" stroke="#333333" stroke-width="2.6" stroke-linecap="butt"/>
<line x1="279.5" y1="1657.2" x2="279.5" y2="1643.2" stroke="#333333" stroke-width="2.6" stroke-linecap="butt"/>
<line x1="268.7" y1="1643.2" x2="290.3" y2="1643.2" stroke="#333333" stroke-width="2.6" stroke-linecap="butt"/>
<line x1="279.5" y1="1767.4" x2="279.5" y2="1789.5" stroke="#333333" stroke-width="2.6" stroke-linecap="butt"/>
<line x1="268.7" y1="1789.5" x2="290.3" y2="1789.5" stroke="#333333" stroke-width="2.6" stroke-linecap="butt"/>
<polygon points="345,1770.7 345,1770.1 356,1728.7 345,1687.3 345,1696.4 389,1696.4 389,1687.3 378,1728.7 389,1770.1 389,1770.7" fill="none" stroke="#333333" stroke-width="2.6" stroke-linejoin="round"/>
<line x1="356" y1="1728.7" x2="378" y2="1728.7" stroke="#333333" stroke-width="2.6" stroke-linecap="butt"/>
<line x1="367" y1="1696.4" x2="367" y2="1645.1" stroke="#333333" stroke-width="2.6" stroke-linecap="butt"/>
<line x1="356.2" y1="1645.1" x2="377.8" y2="1645.1" stroke="#333333" stroke-width="2.6" stroke-linecap="butt"/>
<line x1="367" y1="1770.7" x2="367" y2="1780.9" stroke="#333333" stroke-width="2.6" stroke-linecap="butt"/>
<line x1="356.2" y1="1780.9" x2="377.8" y2="1780.9" stroke="#333333" stroke-width="2.6" stroke-linecap="butt"/>
<polygon points="432.8,1759.7 432.8,1748.9 443.8,1675.9 432.8,1601.9 432.8,1645.2 476.8,1645.2 476.8,1601.9 465.8,1675.9 476.8,1748.9 476.8,1759.7" fill="none" stroke="#333333" stroke-width="2.6" stroke-linejoin="round"/>
<line x1="443.8" y1="1675.9" x2="465.8" y2="1675.9" stroke="#333333" stroke-width="2.6" stroke-linecap="butt"/>
<line x1="454.8" y1="1645.2" x2="454.8" y2="1633.8" stroke="#333333" stroke-width="2.6" stroke-linecap="butt"/>
<line x1="444" y1="1633.8" x2="465.6" y2="1633.8" stroke="#333333" stroke-width="2.6" stroke-linecap="butt"/>
<line x1="454.8" y1="1759.7" x2="454.8" y2="1785.3" stroke="#333333" stroke-width="2.6" stroke-linecap="butt"/>
<line x1="444" y1="1785.3" x2="465.6" y2="1785.3" stroke="#333333" stroke-width="2.6" stroke-linecap="butt"/>
<polygon points="520.4,1717 520.4,1705.6 531.4,1645.8 520.4,1585.9 520.4,1640.6 564.4,1640.6 564.4,1585.9 553.4,1645.8 564.4,1705.6 564.4,1717" fill="none" stroke="#333333" stroke-width="2.6" stroke-linejoin="round"/>
<line x1="531.4" y1="1645.8" x2="553.4" y2="1645.8" stroke="#333333" stroke-width="2.6" stroke-linecap="butt"/>
<line x1="542.4" y1="1640.6" x2="542.4" y2="1638.4" stroke="#333333" stroke-width="2.6" stroke-linecap="butt"/>
<line x1="531.6" y1="1638.4" x2="553.2" y2="1638.4" stroke="#333333" stroke-width="2.6" stroke-linecap="butt"/>
<line x1="542.4" y1="1717" x2="542.4" y2="1785.9" stroke="#333333" stroke-width="2.6" stroke-linecap="butt"/>
<line x1="531.6" y1="1785.9" x2="553.2" y2="1785.9" stroke="#333333" stroke-width="2.6" stroke-linecap="butt"/>
<line x1="235.7" y1="1813.5" x2="235.7" y2="1534.2" stroke="#383838" stroke-width="6.2" stroke-linecap="square"/>
<line x1="235.7" y1="1813.5" x2="585.7" y2="1813.5" stroke="#383838" stroke-width="6.2" stroke-linecap="square"/>
<g transform="translate(159.88,1829.73)" fill="#000"><text xml:space="preserve" x="0" y="0" font-size="46.5">0.0</text></g>
<line x1="235.7" y1="1673.85" x2="242.2" y2="1673.85" stroke="#383838" stroke-width="6.2" stroke-linecap="butt"/>
<g transform="translate(160.01,1690.08)" fill="#000"><text xml:space="preserve" x="0" y="0" font-size="46.5">0.5</text></g>
<line x1="235.7" y1="1534.2" x2="242.2" y2="1534.2" stroke="#383838" stroke-width="6.2" stroke-linecap="butt"/>
<g transform="translate(159.88,1550.43)" fill="#000"><text xml:space="preserve" x="0" y="0" font-size="46.5">1.0</text></g>
<g transform="translate(245.97,1850.5)" fill="#000"><text xml:space="preserve" x="0" y="0" font-size="26" font-weight="bold">10-20</text></g>
<line x1="279.5" y1="1813.5" x2="279.5" y2="1806.5" stroke="#383838" stroke-width="5.5" stroke-linecap="butt"/>
<g transform="translate(333.83,1850.5)" fill="#000"><text xml:space="preserve" x="0" y="0" font-size="26" font-weight="bold">20-30</text></g>
<line x1="367" y1="1813.5" x2="367" y2="1806.5" stroke="#383838" stroke-width="5.5" stroke-linecap="butt"/>
<g transform="translate(421.79,1850.5)" fill="#000"><text xml:space="preserve" x="0" y="0" font-size="26" font-weight="bold">30-40</text></g>
<line x1="454.8" y1="1813.5" x2="454.8" y2="1806.5" stroke="#383838" stroke-width="5.5" stroke-linecap="butt"/>
<g transform="translate(509.49,1850.5)" fill="#000"><text xml:space="preserve" x="0" y="0" font-size="26" font-weight="bold">40-50</text></g>
<line x1="542.4" y1="1813.5" x2="542.4" y2="1806.5" stroke="#383838" stroke-width="5.5" stroke-linecap="butt"/>
<g transform="translate(289.18,1898.8)" fill="#000"><text xml:space="preserve" x="0" y="0" font-size="38.8">Distance (µm)</text></g>
<g transform="translate(356.53,1549)" fill="#000"><text xml:space="preserve" x="0" y="0" font-size="45" font-weight="bold">theta</text></g>
<g transform="translate(140.6,1842.8) rotate(-90) scale(0.9975,1)" fill="#000"><text xml:space="preserve" x="0" y="0" font-size="39.06">Intensity coherence</text></g>
<g transform="translate(106.75,1477.2)" fill="#383838"><text xml:space="preserve" x="0" y="0" font-size="58" font-weight="bold">h</text></g>
<polygon points="804,1791.2 804,1810.5 815,1771 804,1711 804,1725.5 848,1725.5 848,1711 837,1771 848,1810.5 848,1791.2" fill="none" stroke="#333333" stroke-width="2.6" stroke-linejoin="round"/>
<line x1="815" y1="1771" x2="837" y2="1771" stroke="#333333" stroke-width="2.6" stroke-linecap="butt"/>
<line x1="826" y1="1725.5" x2="826" y2="1710.5" stroke="#333333" stroke-width="2.6" stroke-linecap="butt"/>
<line x1="815.2" y1="1710.5" x2="836.8" y2="1710.5" stroke="#333333" stroke-width="2.6" stroke-linecap="butt"/>
<line x1="826" y1="1791.2" x2="826" y2="1798.2" stroke="#333333" stroke-width="2.6" stroke-linecap="butt"/>
<line x1="815.2" y1="1798.2" x2="836.8" y2="1798.2" stroke="#333333" stroke-width="2.6" stroke-linecap="butt"/>
<polygon points="891.7,1783.6 891.7,1798.2 902.7,1761.6 891.7,1726.1 891.7,1718.9 935.7,1718.9 935.7,1726.1 924.7,1761.6 935.7,1798.2 935.7,1783.6" fill="none" stroke="#333333" stroke-width="2.6" stroke-linejoin="round"/>
<line x1="902.7" y1="1761.6" x2="924.7" y2="1761.6" stroke="#333333" stroke-width="2.6" stroke-linecap="butt"/>
<line x1="913.7" y1="1718.9" x2="913.7" y2="1683.6" stroke="#333333" stroke-width="2.6" stroke-linecap="butt"/>
<line x1="902.9" y1="1683.6" x2="924.5" y2="1683.6" stroke="#333333" stroke-width="2.6" stroke-linecap="butt"/>
<line x1="913.7" y1="1783.6" x2="913.7" y2="1786.3" stroke="#333333" stroke-width="2.6" stroke-linecap="butt"/>
<line x1="902.9" y1="1786.3" x2="924.5" y2="1786.3" stroke="#333333" stroke-width="2.6" stroke-linecap="butt"/>
<polygon points="979.2,1714 979.2,1719.1 990.2,1699.4 979.2,1680.9 979.2,1683.9 1023.2,1683.9 1023.2,1680.9 1012.2,1699.4 1023.2,1719.1 1023.2,1714" fill="none" stroke="#333333" stroke-width="2.6" stroke-linejoin="round"/>
<line x1="990.2" y1="1699.4" x2="1012.2" y2="1699.4" stroke="#333333" stroke-width="2.6" stroke-linecap="butt"/>
<line x1="1001.2" y1="1683.9" x2="1001.2" y2="1663.1" stroke="#333333" stroke-width="2.6" stroke-linecap="butt"/>
<line x1="990.4" y1="1663.1" x2="1012" y2="1663.1" stroke="#333333" stroke-width="2.6" stroke-linecap="butt"/>
<polygon points="1001.2,1785.8 1003.9,1788.5 1001.2,1791.2 998.5,1788.5" fill="#333333"/>
<polygon points="1066.9,1739.5 1066.9,1744.4 1077.9,1704.9 1066.9,1665.3 1066.9,1689.7 1110.9,1689.7 1110.9,1665.3 1099.9,1704.9 1110.9,1744.4 1110.9,1739.5" fill="none" stroke="#333333" stroke-width="2.6" stroke-linejoin="round"/>
<line x1="1077.9" y1="1704.9" x2="1099.9" y2="1704.9" stroke="#333333" stroke-width="2.6" stroke-linecap="butt"/>
<line x1="1088.9" y1="1739.5" x2="1088.9" y2="1760.3" stroke="#333333" stroke-width="2.6" stroke-linecap="butt"/>
<line x1="1078.1" y1="1760.3" x2="1099.7" y2="1760.3" stroke="#333333" stroke-width="2.6" stroke-linecap="butt"/>
<line x1="782.5" y1="1813.3" x2="782.5" y2="1534.2" stroke="#383838" stroke-width="6.2" stroke-linecap="square"/>
<line x1="782.5" y1="1813.3" x2="1132.5" y2="1813.3" stroke="#383838" stroke-width="6.2" stroke-linecap="square"/>
<g transform="translate(706.68,1829.53)" fill="#000"><text xml:space="preserve" x="0" y="0" font-size="46.5">0.0</text></g>
<line x1="782.5" y1="1673.75" x2="789" y2="1673.75" stroke="#383838" stroke-width="6.2" stroke-linecap="butt"/>
<g transform="translate(706.81,1689.98)" fill="#000"><text xml:space="preserve" x="0" y="0" font-size="46.5">0.5</text></g>
<line x1="782.5" y1="1534.2" x2="789" y2="1534.2" stroke="#383838" stroke-width="6.2" stroke-linecap="butt"/>
<g transform="translate(706.68,1550.43)" fill="#000"><text xml:space="preserve" x="0" y="0" font-size="46.5">1.0</text></g>
<g transform="translate(792.47,1850.5)" fill="#000"><text xml:space="preserve" x="0" y="0" font-size="26" font-weight="bold">10-20</text></g>
<line x1="826" y1="1813.3" x2="826" y2="1806.3" stroke="#383838" stroke-width="5.5" stroke-linecap="butt"/>
<g transform="translate(880.53,1850.5)" fill="#000"><text xml:space="preserve" x="0" y="0" font-size="26" font-weight="bold">20-30</text></g>
<line x1="913.7" y1="1813.3" x2="913.7" y2="1806.3" stroke="#383838" stroke-width="5.5" stroke-linecap="butt"/>
<g transform="translate(968.19,1850.5)" fill="#000"><text xml:space="preserve" x="0" y="0" font-size="26" font-weight="bold">30-40</text></g>
<line x1="1001.2" y1="1813.3" x2="1001.2" y2="1806.3" stroke="#383838" stroke-width="5.5" stroke-linecap="butt"/>
<g transform="translate(1055.99,1850.5)" fill="#000"><text xml:space="preserve" x="0" y="0" font-size="26" font-weight="bold">40-50</text></g>
<line x1="1088.9" y1="1813.3" x2="1088.9" y2="1806.3" stroke="#383838" stroke-width="5.5" stroke-linecap="butt"/>
<g transform="translate(835.98,1898.6)" fill="#000"><text xml:space="preserve" x="0" y="0" font-size="38.8">Distance (µm)</text></g>
<g transform="translate(877.65,1539.5)" fill="#000"><text xml:space="preserve" x="0" y="0" font-size="45" font-weight="bold">gamma</text></g>
<g transform="translate(691.2,1842.8) rotate(-90) scale(1.0046,1)" fill="#000"><text xml:space="preserve" x="0" y="0" font-size="38.78">Intensity coherence</text></g>
<g transform="translate(658.61,1477.56)" fill="#383838"><text xml:space="preserve" x="0" y="0" font-size="58" font-weight="bold">j</text></g>
<polygon points="1359.7,1649.5 1359.7,1661.4 1370.7,1629.1 1359.7,1596.8 1359.7,1614.3 1403.7,1614.3 1403.7,1596.8 1392.7,1629.1 1403.7,1661.4 1403.7,1649.5" fill="none" stroke="#333333" stroke-width="2.6" stroke-linejoin="round"/>
<line x1="1370.7" y1="1629.1" x2="1392.7" y2="1629.1" stroke="#333333" stroke-width="2.6" stroke-linecap="butt"/>
<line x1="1381.7" y1="1614.3" x2="1381.7" y2="1609.5" stroke="#333333" stroke-width="2.6" stroke-linecap="butt"/>
<line x1="1370.9" y1="1609.5" x2="1392.5" y2="1609.5" stroke="#333333" stroke-width="2.6" stroke-linecap="butt"/>
<line x1="1381.7" y1="1649.5" x2="1381.7" y2="1656.8" stroke="#333333" stroke-width="2.6" stroke-linecap="butt"/>
<line x1="1370.9" y1="1656.8" x2="1392.5" y2="1656.8" stroke="#333333" stroke-width="2.6" stroke-linecap="butt"/>
<polygon points="1446.4,1663.5 1446.4,1673.2 1457.4,1645.5 1446.4,1616 1446.4,1615.1 1490.4,1615.1 1490.4,1616 1479.4,1645.5 1490.4,1673.2 1490.4,1663.5" fill="none" stroke="#333333" stroke-width="2.6" stroke-linejoin="round"/>
<line x1="1457.4" y1="1645.5" x2="1479.4" y2="1645.5" stroke="#333333" stroke-width="2.6" stroke-linecap="butt"/>
<line x1="1468.4" y1="1615.1" x2="1468.4" y2="1596.3" stroke="#333333" stroke-width="2.6" stroke-linecap="butt"/>
<line x1="1457.6" y1="1596.3" x2="1479.2" y2="1596.3" stroke="#333333" stroke-width="2.6" stroke-linecap="butt"/>
<line x1="1468.4" y1="1663.5" x2="1468.4" y2="1689.9" stroke="#333333" stroke-width="2.6" stroke-linecap="butt"/>
<line x1="1457.6" y1="1689.9" x2="1479.2" y2="1689.9" stroke="#333333" stroke-width="2.6" stroke-linecap="butt"/>
<polygon points="1534,1661.9 1534,1650.1 1545,1606.8 1534,1563.4 1534,1594.1 1578,1594.1 1578,1563.4 1567,1606.8 1578,1650.1 1578,1661.9" fill="none" stroke="#333333" stroke-width="2.6" stroke-linejoin="round"/>
<line x1="1545" y1="1606.8" x2="1567" y2="1606.8" stroke="#333333" stroke-width="2.6" stroke-linecap="butt"/>
<line x1="1556" y1="1594.1" x2="1556" y2="1588.2" stroke="#333333" stroke-width="2.6" stroke-linecap="butt"/>
<line x1="1545.2" y1="1588.2" x2="1566.8" y2="1588.2" stroke="#333333" stroke-width="2.6" stroke-linecap="butt"/>
<line x1="1556" y1="1661.9" x2="1556" y2="1678.3" stroke="#333333" stroke-width="2.6" stroke-linecap="butt"/>
<line x1="1545.2" y1="1678.3" x2="1566.8" y2="1678.3" stroke="#333333" stroke-width="2.6" stroke-linecap="butt"/>
<polygon points="1621.7,1627.5 1621.7,1629.1 1632.7,1600 1621.7,1571 1621.7,1590.9 1665.7,1590.9 1665.7,1571 1654.7,1600 1665.7,1629.1 1665.7,1627.5" fill="none" stroke="#333333" stroke-width="2.6" stroke-linejoin="round"/>
<line x1="1632.7" y1="1600" x2="1654.7" y2="1600" stroke="#333333" stroke-width="2.6" stroke-linecap="butt"/>
<line x1="1643.7" y1="1590.9" x2="1643.7" y2="1584.2" stroke="#333333" stroke-width="2.6" stroke-linecap="butt"/>
<line x1="1632.9" y1="1584.2" x2="1654.5" y2="1584.2" stroke="#333333" stroke-width="2.6" stroke-linecap="butt"/>
<line x1="1643.7" y1="1627.5" x2="1643.7" y2="1651.1" stroke="#333333" stroke-width="2.6" stroke-linecap="butt"/>
<line x1="1632.9" y1="1651.1" x2="1654.5" y2="1651.1" stroke="#333333" stroke-width="2.6" stroke-linecap="butt"/>
<line x1="1337.8" y1="1804" x2="1337.8" y2="1524" stroke="#383838" stroke-width="6.2" stroke-linecap="square"/>
<line x1="1337.8" y1="1804" x2="1687.8" y2="1804" stroke="#383838" stroke-width="6.2" stroke-linecap="square"/>
<line x1="1337.8" y1="1776" x2="1344.3" y2="1776" stroke="#383838" stroke-width="6.2" stroke-linecap="butt"/>
<g transform="translate(1246.69,1792.23)" fill="#000"><text xml:space="preserve" x="0" y="0" font-size="46.5">-0.8</text></g>
<line x1="1337.8" y1="1664" x2="1344.3" y2="1664" stroke="#383838" stroke-width="6.2" stroke-linecap="butt"/>
<g transform="translate(1261.98,1680.23)" fill="#000"><text xml:space="preserve" x="0" y="0" font-size="46.5">0.0</text></g>
<line x1="1337.8" y1="1552" x2="1344.3" y2="1552" stroke="#383838" stroke-width="6.2" stroke-linecap="butt"/>
<g transform="translate(1262.18,1568.23)" fill="#000"><text xml:space="preserve" x="0" y="0" font-size="46.5">0.8</text></g>
<g transform="translate(1348.17,1841.5)" fill="#000"><text xml:space="preserve" x="0" y="0" font-size="26" font-weight="bold">10-20</text></g>
<line x1="1381.7" y1="1804" x2="1381.7" y2="1797" stroke="#383838" stroke-width="5.5" stroke-linecap="butt"/>
<g transform="translate(1435.23,1841.5)" fill="#000"><text xml:space="preserve" x="0" y="0" font-size="26" font-weight="bold">20-30</text></g>
<line x1="1468.4" y1="1804" x2="1468.4" y2="1797" stroke="#383838" stroke-width="5.5" stroke-linecap="butt"/>
<g transform="translate(1522.99,1841.5)" fill="#000"><text xml:space="preserve" x="0" y="0" font-size="26" font-weight="bold">30-40</text></g>
<line x1="1556" y1="1804" x2="1556" y2="1797" stroke="#383838" stroke-width="5.5" stroke-linecap="butt"/>
<g transform="translate(1610.79,1841.5)" fill="#000"><text xml:space="preserve" x="0" y="0" font-size="26" font-weight="bold">40-50</text></g>
<line x1="1643.7" y1="1804" x2="1643.7" y2="1797" stroke="#383838" stroke-width="5.5" stroke-linecap="butt"/>
<g transform="translate(1391.28,1889.3)" fill="#000"><text xml:space="preserve" x="0" y="0" font-size="38.8">Distance (µm)</text></g>
<g transform="translate(1397.04,1549)" fill="#000"><text xml:space="preserve" x="0" y="0" font-size="45" font-weight="bold">correlation</text></g>
<g transform="translate(1240.8,1841.99) rotate(-90) scale(1.0104,1)" fill="#000"><text xml:space="preserve" x="0" y="0" font-size="38.5">Intensity correlation</text></g>
<g transform="translate(1207.05,1477)" fill="#383838"><text xml:space="preserve" x="0" y="0" font-size="58" font-weight="bold">l</text></g>
<line x1="238.6" y1="2322.12" x2="583.8" y2="2214.37" stroke="#bdbdbd" stroke-width="5.6" stroke-linecap="round"/>
<circle cx="262.1" cy="2200.5" r="5.2" fill="#383838"/>
<circle cx="251.1" cy="2213.9" r="5.2" fill="#383838"/>
<circle cx="342.6" cy="2203.7" r="5.2" fill="#383838"/>
<circle cx="355.2" cy="2213.4" r="5.2" fill="#383838"/>
<circle cx="431" cy="2217.9" r="5.2" fill="#383838"/>
<circle cx="442.7" cy="2211.8" r="5.2" fill="#383838"/>
<circle cx="466.2" cy="2213.9" r="5.2" fill="#383838"/>
<circle cx="330.9" cy="2242.6" r="5.2" fill="#383838"/>
<circle cx="375.9" cy="2243.8" r="5.2" fill="#383838"/>
<circle cx="330.9" cy="2261.6" r="5.2" fill="#383838"/>
<circle cx="386" cy="2266.1" r="5.2" fill="#383838"/>
<circle cx="304.2" cy="2282.7" r="5.2" fill="#383838"/>
<circle cx="365.7" cy="2291.2" r="5.2" fill="#383838"/>
<circle cx="266.1" cy="2313.9" r="5.2" fill="#383838"/>
<circle cx="272.2" cy="2322" r="5.2" fill="#383838"/>
<circle cx="313.1" cy="2317.1" r="5.2" fill="#383838"/>
<circle cx="319.2" cy="2358" r="5.2" fill="#383838"/>
<circle cx="346.3" cy="2368.2" r="5.2" fill="#383838"/>
<circle cx="360.9" cy="2373.8" r="5.2" fill="#383838"/>
<circle cx="275.8" cy="2383.6" r="5.2" fill="#383838"/>
<circle cx="294.5" cy="2390.8" r="5.2" fill="#383838"/>
<circle cx="305.4" cy="2390.4" r="5.2" fill="#383838"/>
<circle cx="408.3" cy="2394.5" r="5.2" fill="#383838"/>
<line x1="236.1" y1="2425.3" x2="236.1" y2="2076" stroke="#383838" stroke-width="6.2" stroke-linecap="square"/>
<line x1="236.1" y1="2425.3" x2="585.3" y2="2425.3" stroke="#383838" stroke-width="6.2" stroke-linecap="square"/>
<line x1="236.1" y1="2250.65" x2="246.1" y2="2250.65" stroke="#383838" stroke-width="6.2" stroke-linecap="butt"/>
<g transform="translate(160.41,2266.88)" fill="#000"><text xml:space="preserve" x="0" y="0" font-size="46.5">0.5</text></g>
<line x1="236.1" y1="2076" x2="246.1" y2="2076" stroke="#383838" stroke-width="6.2" stroke-linecap="butt"/>
<g transform="translate(160.28,2092.23)" fill="#000"><text xml:space="preserve" x="0" y="0" font-size="46.5">1.0</text></g>
<g transform="translate(223.17,2476)" fill="#000"><text xml:space="preserve" x="0" y="0" font-size="46.5">0</text></g>
<line x1="410.7" y1="2425.3" x2="410.7" y2="2415.3" stroke="#383838" stroke-width="6.2" stroke-linecap="butt"/>
<g transform="translate(378.45,2476)" fill="#000"><text xml:space="preserve" x="0" y="0" font-size="46.5">0.5</text></g>
<line x1="585.3" y1="2425.3" x2="585.3" y2="2415.3" stroke="#383838" stroke-width="6.2" stroke-linecap="butt"/>
<g transform="translate(552.12,2476)" fill="#000"><text xml:space="preserve" x="0" y="0" font-size="46.5">1.0</text></g>
<g transform="translate(212.62,2510.6)" fill="#000"><text xml:space="preserve" x="0" y="0" font-size="38.8">Neuron pair coherence</text></g>
<g transform="translate(356.53,2054.5)" fill="#000"><text xml:space="preserve" x="0" y="0" font-size="45" font-weight="bold">theta</text></g>
<g transform="translate(140.8,2437.6) rotate(-90) scale(0.9925,1)" fill="#000"><text xml:space="preserve" x="0" y="0" font-size="39.33">Donut pair coherence</text></g>
<g transform="translate(106.38,2035.7)" fill="#383838"><text xml:space="preserve" x="0" y="0" font-size="58" font-weight="bold">m</text></g>
<g transform="translate(463.58,2097.1)" fill="#000"><text xml:space="preserve" x="0" y="0" font-size="26">r</text><text xml:space="preserve" x="8.66" y="-12.48" font-size="11.7">2</text><text xml:space="preserve" x="15.17" y="0" font-size="26"> = 0.0691</text></g>
<g transform="translate(416.59,2125.6)" fill="#000"><text xml:space="preserve" x="0" y="0" font-size="26">slope = 0.3100</text></g>
<line x1="785.5" y1="2314.91" x2="1130.6" y2="2357.81" stroke="#bdbdbd" stroke-width="5.6" stroke-linecap="round"/>
<circle cx="805.3" cy="2236.5" r="5.2" fill="#383838"/>
<circle cx="842.6" cy="2263.3" r="5.2" fill="#383838"/>
<circle cx="837.7" cy="2273" r="5.2" fill="#383838"/>
<circle cx="913" cy="2270.6" r="5.2" fill="#383838"/>
<circle cx="928.4" cy="2269.3" r="5.2" fill="#383838"/>
<circle cx="962" cy="2262" r="5.2" fill="#383838"/>
<circle cx="892.8" cy="2292" r="5.2" fill="#383838"/>
<circle cx="939.3" cy="2292.8" r="5.2" fill="#383838"/>
<circle cx="829.6" cy="2296.1" r="5.2" fill="#383838"/>
<circle cx="811.8" cy="2299.7" r="5.2" fill="#383838"/>
<circle cx="815" cy="2306.2" r="5.2" fill="#383838"/>
<circle cx="856.7" cy="2320.8" r="5.2" fill="#383838"/>
<circle cx="886.7" cy="2320.8" r="5.2" fill="#383838"/>
<circle cx="830.8" cy="2335" r="5.2" fill="#383838"/>
<circle cx="930.5" cy="2358" r="5.2" fill="#383838"/>
<circle cx="930" cy="2371.8" r="5.2" fill="#383838"/>
<circle cx="860.4" cy="2388" r="5.2" fill="#383838"/>
<circle cx="867.3" cy="2385.6" r="5.2" fill="#383838"/>
<circle cx="873.3" cy="2386.4" r="5.2" fill="#383838"/>
<circle cx="871.3" cy="2391.2" r="5.2" fill="#383838"/>
<circle cx="875.8" cy="2400.6" r="5.2" fill="#383838"/>
<circle cx="816.6" cy="2392.9" r="5.2" fill="#383838"/>
<circle cx="966.5" cy="2405" r="5.2" fill="#383838"/>
<line x1="783" y1="2424.5" x2="783" y2="2075.3" stroke="#383838" stroke-width="6.2" stroke-linecap="square"/>
<line x1="783" y1="2424.5" x2="1132.1" y2="2424.5" stroke="#383838" stroke-width="6.2" stroke-linecap="square"/>
<line x1="783" y1="2249.9" x2="793" y2="2249.9" stroke="#383838" stroke-width="6.2" stroke-linecap="butt"/>
<g transform="translate(707.31,2266.13)" fill="#000"><text xml:space="preserve" x="0" y="0" font-size="46.5">0.5</text></g>
<line x1="783" y1="2075.3" x2="793" y2="2075.3" stroke="#383838" stroke-width="6.2" stroke-linecap="butt"/>
<g transform="translate(707.18,2091.53)" fill="#000"><text xml:space="preserve" x="0" y="0" font-size="46.5">1.0</text></g>
<g transform="translate(770.07,2475.2)" fill="#000"><text xml:space="preserve" x="0" y="0" font-size="46.5">0</text></g>
<line x1="957.55" y1="2424.5" x2="957.55" y2="2414.5" stroke="#383838" stroke-width="6.2" stroke-linecap="butt"/>
<g transform="translate(925.3,2475.2)" fill="#000"><text xml:space="preserve" x="0" y="0" font-size="46.5">0.5</text></g>
<line x1="1132.1" y1="2424.5" x2="1132.1" y2="2414.5" stroke="#383838" stroke-width="6.2" stroke-linecap="butt"/>
<g transform="translate(1098.92,2475.2)" fill="#000"><text xml:space="preserve" x="0" y="0" font-size="46.5">1.0</text></g>
<g transform="translate(759.47,2509.8)" fill="#000"><text xml:space="preserve" x="0" y="0" font-size="38.8">Neuron pair coherence</text></g>
<g transform="translate(877.7,2045.2)" fill="#000"><text xml:space="preserve" x="0" y="0" font-size="45" font-weight="bold">gamma</text></g>
<g transform="translate(691.6,2437.6) rotate(-90)" fill="#000"><text xml:space="preserve" x="0" y="0" font-size="39.06">Donut pair coherence</text></g>
<g transform="translate(660.28,2035.7)" fill="#383838"><text xml:space="preserve" x="0" y="0" font-size="58" font-weight="bold">n</text></g>
<g transform="translate(1009.78,2097.1)" fill="#000"><text xml:space="preserve" x="0" y="0" font-size="26">r</text><text xml:space="preserve" x="8.66" y="-12.48" font-size="11.7">2</text><text xml:space="preserve" x="15.17" y="0" font-size="26"> = 0.0127</text></g>
<g transform="translate(954.13,2125.6)" fill="#000"><text xml:space="preserve" x="0" y="0" font-size="26">slope = -0.1200</text></g>
<line x1="1340" y1="2243.28" x2="1686" y2="2212.83" stroke="#bdbdbd" stroke-width="5.6" stroke-linecap="round"/>
<circle cx="1551.1" cy="2111.8" r="5.2" fill="#383838"/>
<circle cx="1476.2" cy="2120.7" r="5.2" fill="#383838"/>
<circle cx="1457.6" cy="2133.7" r="5.2" fill="#383838"/>
<circle cx="1382.2" cy="2140.5" r="5.2" fill="#383838"/>
<circle cx="1651.6" cy="2138.1" r="5.2" fill="#383838"/>
<circle cx="1565.7" cy="2147.8" r="5.2" fill="#383838"/>
<circle cx="1615.5" cy="2154.7" r="5.2" fill="#383838"/>
<circle cx="1552.7" cy="2159.2" r="5.2" fill="#383838"/>
<circle cx="1609.4" cy="2169.7" r="5.2" fill="#383838"/>
<circle cx="1541" cy="2178.6" r="5.2" fill="#383838"/>
<circle cx="1501.7" cy="2204.9" r="5.2" fill="#383838"/>
<circle cx="1482.3" cy="2213.4" r="5.2" fill="#383838"/>
<circle cx="1518.3" cy="2247.9" r="5.2" fill="#383838"/>
<circle cx="1575.4" cy="2254.4" r="5.2" fill="#383838"/>
<circle cx="1475.4" cy="2263.7" r="5.2" fill="#383838"/>
<circle cx="1629.7" cy="2275.8" r="5.2" fill="#383838"/>
<circle cx="1391.9" cy="2292" r="5.2" fill="#383838"/>
<circle cx="1483.9" cy="2291.6" r="5.2" fill="#383838"/>
<circle cx="1514.3" cy="2287.6" r="5.2" fill="#383838"/>
<circle cx="1506.2" cy="2324.4" r="5.2" fill="#383838"/>
<circle cx="1518.3" cy="2352" r="5.2" fill="#383838"/>
<circle cx="1556.8" cy="2365.3" r="5.2" fill="#383838"/>
<circle cx="1544.6" cy="2387.6" r="5.2" fill="#383838"/>
<line x1="1337.5" y1="2420.1" x2="1337.5" y2="2070.19" stroke="#383838" stroke-width="6.2" stroke-linecap="square"/>
<line x1="1337.5" y1="2420.1" x2="1686.42" y2="2420.1" stroke="#383838" stroke-width="6.2" stroke-linecap="square"/>
<line x1="1337.5" y1="2292.86" x2="1347.5" y2="2292.86" stroke="#383838" stroke-width="6.2" stroke-linecap="butt"/>
<g transform="translate(1261.68,2309.09)" fill="#000"><text xml:space="preserve" x="0" y="0" font-size="46.5">0.0</text></g>
<line x1="1337.5" y1="2165.62" x2="1347.5" y2="2165.62" stroke="#383838" stroke-width="6.2" stroke-linecap="butt"/>
<g transform="translate(1261.22,2181.85)" fill="#000"><text xml:space="preserve" x="0" y="0" font-size="46.5">0.4</text></g>
<g transform="translate(1297.08,2470.8)" fill="#000"><text xml:space="preserve" x="0" y="0" font-size="46.5">-0.4</text></g>
<line x1="1464.38" y1="2420.1" x2="1464.38" y2="2410.1" stroke="#383838" stroke-width="6.2" stroke-linecap="butt"/>
<g transform="translate(1451.45,2470.8)" fill="#000"><text xml:space="preserve" x="0" y="0" font-size="46.5">0</text></g>
<line x1="1591.26" y1="2420.1" x2="1591.26" y2="2410.1" stroke="#383838" stroke-width="6.2" stroke-linecap="butt"/>
<g transform="translate(1558.71,2470.8)" fill="#000"><text xml:space="preserve" x="0" y="0" font-size="46.5">0.4</text></g>
<g transform="translate(1314.29,2505.4)" fill="#000"><text xml:space="preserve" x="0" y="0" font-size="38.8">Neuron pair correlation</text></g>
<g transform="translate(1396.2,2054.2)" fill="#000"><text xml:space="preserve" x="0" y="0" font-size="45" font-weight="bold">correlation</text></g>
<g transform="translate(1241.4,2431.2) rotate(-90) scale(0.9974,1)" fill="#000"><text xml:space="preserve" x="0" y="0" font-size="39.06">Donut pair correlation</text></g>
<g transform="translate(1207.63,2035.53)" fill="#383838"><text xml:space="preserve" x="0" y="0" font-size="58" font-weight="bold">o</text></g>
<g transform="translate(1354.27,2374.5)" fill="#000"><text xml:space="preserve" x="0" y="0" font-size="26">r</text><text xml:space="preserve" x="8.66" y="-12.48" font-size="11.7">2</text><text xml:space="preserve" x="15.17" y="0" font-size="26"> = 0.0051</text></g>
<g transform="translate(1355.28,2403)" fill="#000"><text xml:space="preserve" x="0" y="0" font-size="26">slope = 0.089</text></g>
<g transform="translate(41.7,625.06) rotate(-90) scale(0.9979,1)" fill="#000"><text xml:space="preserve" x="0" y="0" font-size="51.89" font-weight="bold">Neuron pairs</text></g>
<g transform="translate(41.7,1605.42) rotate(-90) scale(0.9856,1)" fill="#000"><text xml:space="preserve" x="0" y="0" font-size="51.89" font-weight="bold">Donut pairs</text></g>
<g transform="translate(41.6,2482.12) rotate(-90) scale(0.9893,1)" fill="#000"><text xml:space="preserve" x="0" y="0" font-size="53.2" font-weight="bold">Neuron vs Donut</text></g>
</svg>
</body></html>
